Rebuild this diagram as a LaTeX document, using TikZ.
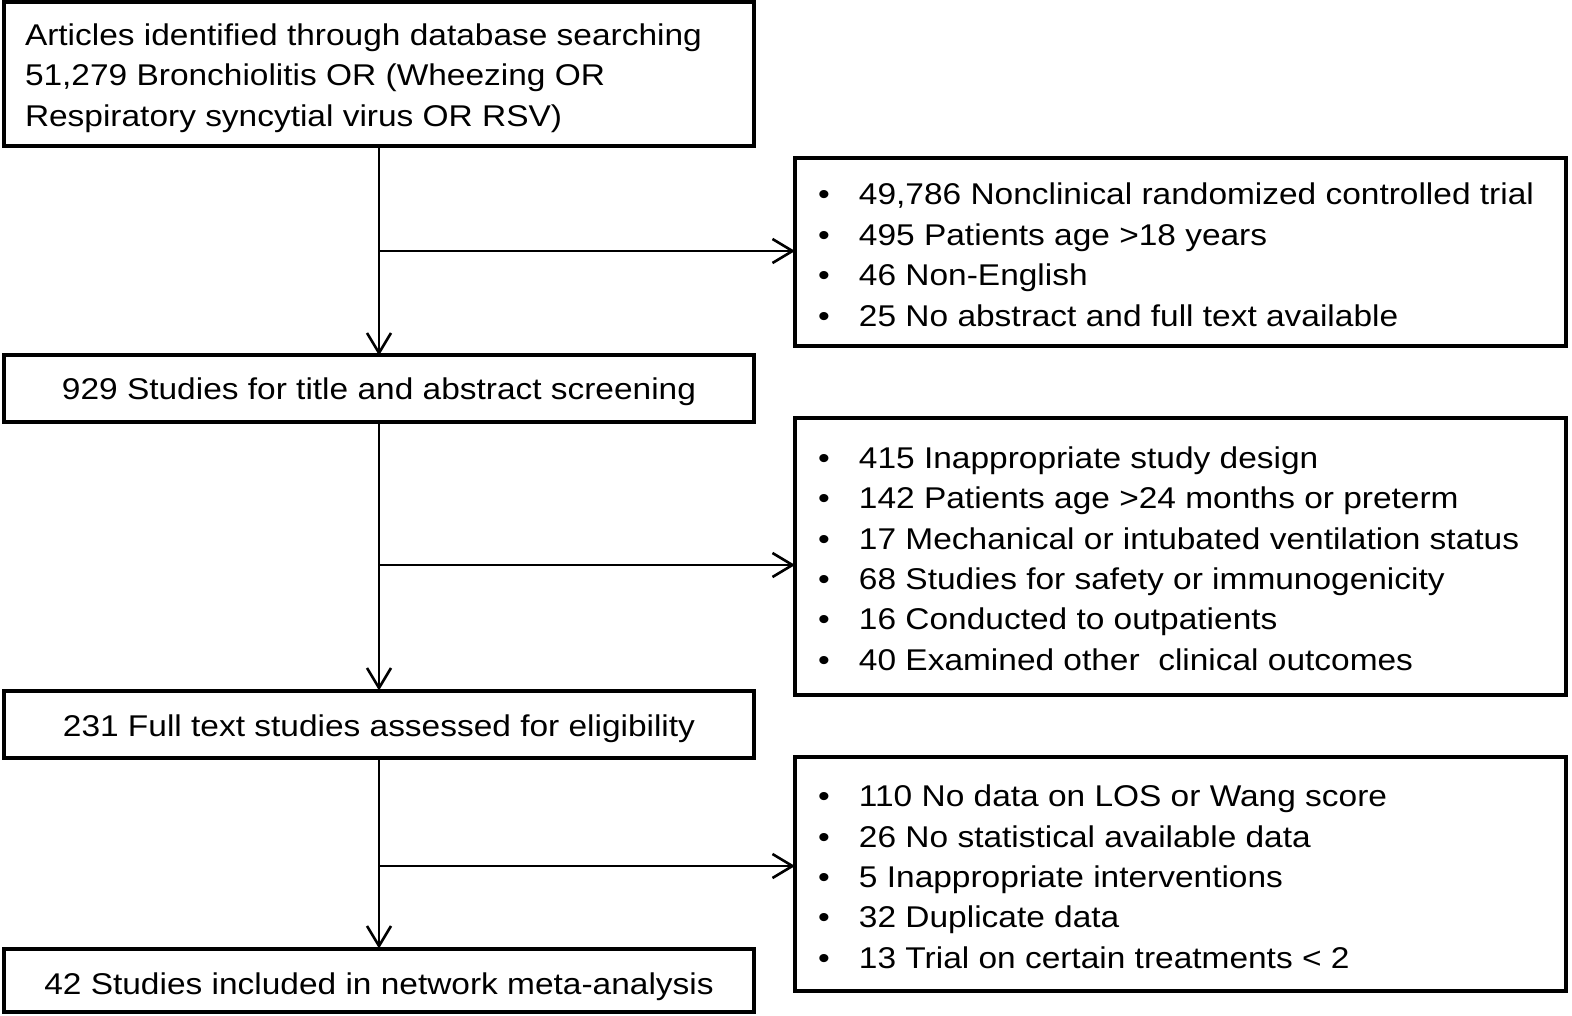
\documentclass[tikz,border=0pt]{standalone}
\usepackage{fontspec}
\setmainfont{Liberation Sans}[FakeStretch=1.115]
\usetikzlibrary{arrows.meta}
\newcommand{\bul}{\makebox[41pt][l]{\textbullet}}
\newcommand{\boxtxt}[4]{\raisebox{-#1pt}[\height][\depth]{\parbox{#2}{#3#4}}}
\begin{document}
\begin{tikzpicture}[x=1pt,y=-1pt,
  box/.style={draw, line width=4pt, anchor=north west, inner sep=0pt, outer sep=0pt,
    font=\fontsize{30}{40.4}\selectfont},
  leftbox/.style={box, minimum width=750pt},
  rightbox/.style={box, minimum width=771pt},
  conn/.style={line width=2.6pt, -{Straight Barb[length=20pt,width=24pt,line width=2.6pt]}}]
\useasboundingbox (0,0) rectangle (1572,1016);
\node[leftbox, minimum height=144pt] (b1) at (4,2)
  {\boxtxt{4}{708pt}{\raggedright}{Articles identified through database searching\\51,279 Bronchiolitis OR (Wheezing OR\\Respiratory syncytial virus OR RSV)}};
\node[rightbox, minimum height=188.5pt] (x1) at (795,158)
  {\boxtxt{2.5}{725pt}{\raggedright}{\bul 49,786 Nonclinical randomized controlled trial\\
   \bul 495 Patients age >18 years\\
   \bul 46 Non-English\\
   \bul 25 No abstract and full text available}};
\node[leftbox, minimum height=66pt] (b2) at (4,355.5)
  {\boxtxt{3.5}{708pt}{\centering}{929 Studies for title and abstract screening}};
\node[rightbox, minimum height=277pt] (x2) at (795,418)
  {\boxtxt{2}{725pt}{\raggedright}{\bul 415 Inappropriate study design\\
   \bul 142 Patients age >24 months or preterm\\
   \bul 17 Mechanical or intubated ventilation status\\
   \bul 68 Studies for safety or immunogenicity\\
   \bul 16 Conducted to outpatients\\
   \bul 40 Examined other~ clinical outcomes}};
\node[leftbox, minimum height=67pt] (b3) at (4,690.5)
  {\boxtxt{4.5}{708pt}{\centering}{231 Full text studies assessed for eligibility}};
\node[rightbox, minimum height=234.5pt] (x3) at (795,756.5)
  {\boxtxt{3}{725pt}{\raggedright}{\bul 110 No data on LOS or Wang score\\
   \bul 26 No statistical available data\\
   \bul 5 Inappropriate interventions\\
   \bul 32 Duplicate data\\
   \bul 13 Trial on certain treatments < 2}};
\node[leftbox, minimum height=63.5pt] (b4) at (4,948.5)
  {\boxtxt{6}{708pt}{\centering}{42 Studies included in network meta-analysis}};
\draw[conn] (b1) -- (b2);
\draw[conn] (b2) -- (b3);
\draw[conn] (b3) -- (b4);
\coordinate (j1) at (b1.south |- 0,251);
\coordinate (j2) at (b2.south |- 0,565);
\coordinate (j3) at (b3.south |- 0,866);
\draw[conn] (j1) -- (j1 -| x1.west);
\draw[conn] (j2) -- (j2 -| x2.west);
\draw[conn] (j3) -- (j3 -| x3.west);
\end{tikzpicture}
\end{document}
